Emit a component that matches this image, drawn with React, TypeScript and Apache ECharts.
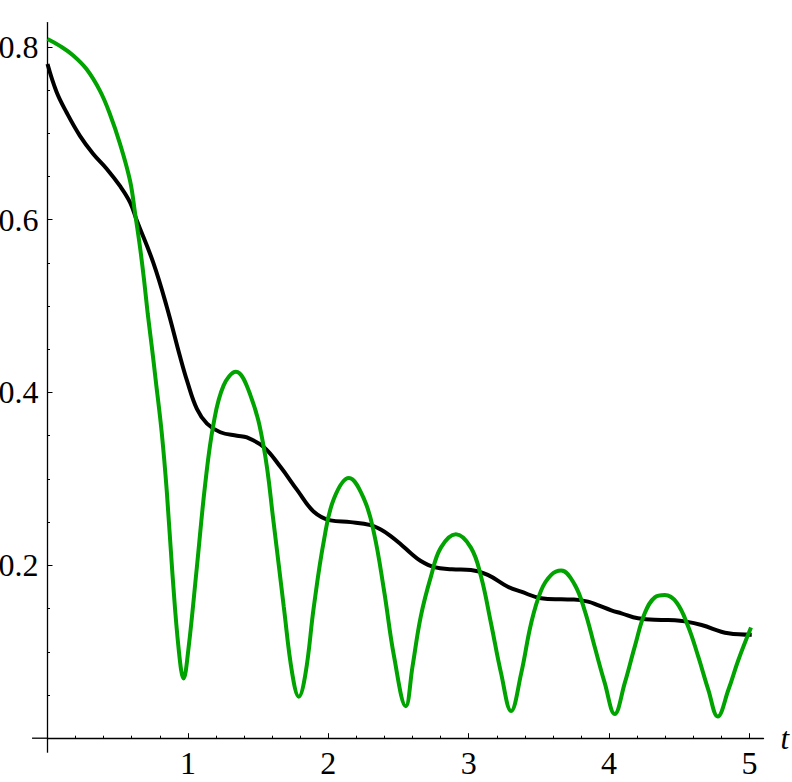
import React, { useEffect, useRef } from "react";
import * as echarts from "echarts";

const greenT = [0, 0.088, 0.183, 0.279, 0.374, 0.445, 0.516, 0.588, 0.624, 0.659, 0.688, 0.714, 0.743, 0.771, 0.814, 0.85, 0.89, 0.935, 0.969, 1.003, 1.064, 1.124, 1.183, 1.254, 1.342, 1.445, 1.54, 1.611, 1.683, 1.743, 1.79, 1.838, 1.897, 1.969, 2.04, 2.147, 2.254, 2.326, 2.397, 2.469, 2.552, 2.6, 2.659, 2.731, 2.802, 2.909, 3.016, 3.088, 3.159, 3.231, 3.302, 3.374, 3.445, 3.516, 3.588, 3.659, 3.754, 3.826, 3.897, 3.969, 4.04, 4.112, 4.183, 4.254, 4.326, 4.397, 4.481, 4.564, 4.636, 4.707, 4.774, 4.85, 4.921, 5.011];
const greenV = [0.809, 0.801, 0.79, 0.774, 0.749, 0.722, 0.688, 0.645, 0.607, 0.568, 0.53, 0.491, 0.453, 0.414, 0.353, 0.285, 0.19, 0.102, 0.069, 0.102, 0.198, 0.295, 0.364, 0.408, 0.424, 0.397, 0.337, 0.249, 0.152, 0.075, 0.048, 0.075, 0.152, 0.229, 0.277, 0.301, 0.277, 0.237, 0.171, 0.094, 0.037, 0.083, 0.141, 0.187, 0.2205, 0.236, 0.2205, 0.187, 0.133, 0.075, 0.0315, 0.075, 0.133, 0.171, 0.189, 0.194, 0.178, 0.148, 0.106, 0.064, 0.028, 0.064, 0.106, 0.1445, 0.163, 0.1656, 0.157, 0.129, 0.094, 0.056, 0.025, 0.056, 0.0905, 0.128];

const blackT = [0, 0.064, 0.136, 0.231, 0.326, 0.421, 0.516, 0.588, 0.636, 0.754, 0.85, 0.945, 0.993, 1.064, 1.136, 1.231, 1.35, 1.421, 1.54, 1.659, 1.779, 1.897, 2.016, 2.159, 2.302, 2.374, 2.44, 2.516, 2.588, 2.659, 2.754, 2.88, 3.016, 3.136, 3.279, 3.374, 3.516, 3.659, 3.75, 3.85, 3.92, 4.016, 4.088, 4.206, 4.373, 4.469, 4.54, 4.659, 4.85, 5.016];
const blackV = [0.78, 0.748, 0.724, 0.697, 0.676, 0.659, 0.639, 0.62, 0.599, 0.55, 0.499, 0.441, 0.414, 0.381, 0.364, 0.354, 0.35, 0.348, 0.337, 0.314, 0.287, 0.262, 0.252, 0.25, 0.2466, 0.2415, 0.2345, 0.2245, 0.214, 0.205, 0.198, 0.1955, 0.1946, 0.189, 0.1753, 0.1695, 0.162, 0.1607, 0.1605, 0.158, 0.154, 0.148, 0.1445, 0.1387, 0.1368, 0.1365, 0.1352, 0.131, 0.1214, 0.1197];

const xTickValues = [0, 1, 2, 3, 4, 5];
const xLabelValues = [1, 2, 3, 4, 5];
const yTickValues = [0, 0.2, 0.4, 0.6, 0.8];
const yLabelValues = [0.2, 0.4, 0.6, 0.8];
// small overshoot of the axis lines past the origin (axis units)
const xAxisOvershoot = -0.11;
const yAxisOvershoot = -0.0168;

const zip = (a: number[], b: number[]) => a.map((v, i) => [v, b[i]]);

export default function App() {
  const ref = useRef<HTMLDivElement>(null);
  useEffect(() => {
    if (!ref.current) return;
    const chart = echarts.init(ref.current, null, { renderer: "svg" });
    const font = "'Liberation Serif', 'Times New Roman', serif";
    chart.setOption({
      animation: false,
      backgroundColor: "#ffffff",
      grid: { left: 47.5, right: 28.5, top: 22.6, bottom: 43.8, containLabel: false, outerBoundsMode: "none" },
      xAxis: {
        type: "value",
        min: 0,
        max: 5.1,
        splitLine: { show: false },
        axisLine: { onZero: false, lineStyle: { color: "#000", width: 1.3 } },
        axisTick: { inside: true, length: 5, customValues: xTickValues, lineStyle: { color: "#000", width: 1 } },
        minorTick: { show: true, splitNumber: 5, length: 2.5, lineStyle: { color: "#000", width: 1 } },
        minorSplitLine: { show: false },
        axisLabel: { customValues: xLabelValues, margin: 9, color: "#000", fontFamily: font, fontSize: 32 },
        name: "t",
        nameLocation: "end",
        nameGap: 17,
        nameTextStyle: { fontFamily: font, fontStyle: "italic", fontSize: 31, color: "#000" },
      },
      yAxis: {
        type: "value",
        min: 0,
        max: 0.828,
        splitLine: { show: false },
        axisLine: { onZero: false, lineStyle: { color: "#000", width: 1.3 } },
        axisTick: { inside: true, length: 5, customValues: yTickValues, lineStyle: { color: "#000", width: 1 } },
        minorTick: { show: true, splitNumber: 4, length: 2.5, lineStyle: { color: "#000", width: 1 } },
        minorSplitLine: { show: false },
        axisLabel: { customValues: yLabelValues, margin: 9, color: "#000", fontFamily: font, fontSize: 32, formatter: (v: number) => v.toFixed(1) },
      },
      series: [
        {
          type: "line",
          data: zip(blackT, blackV),
          smooth: 0.4,
          showSymbol: false,
          lineStyle: { color: "#000000", width: 4 },
          z: 2,
        },
        {
          type: "line",
          data: zip(greenT, greenV),
          smooth: 0.4,
          showSymbol: false,
          lineStyle: { color: "#00a300", width: 4 },
          z: 3,
        },
      ],
    });
    const o = chart.convertToPixel({ gridIndex: 0 }, [0, 0]) as number[];
    const xe = chart.convertToPixel({ gridIndex: 0 }, [xAxisOvershoot, 0]) as number[];
    const ye = chart.convertToPixel({ gridIndex: 0 }, [0, yAxisOvershoot]) as number[];
    if (o && xe && ye) {
      chart.setOption({
        graphic: [
          { type: "line", shape: { x1: xe[0], y1: o[1], x2: o[0], y2: o[1] }, style: { stroke: "#000", lineWidth: 1.3 }, z: 10 },
          { type: "line", shape: { x1: o[0], y1: o[1], x2: o[0], y2: ye[1] }, style: { stroke: "#000", lineWidth: 1.3 }, z: 10 },
        ],
      });
    }
    return () => chart.dispose();
  }, []);
  return <div ref={ref} style={{ position: "absolute", left: 0, top: 0, width: 792, height: 782 }} />;
}
